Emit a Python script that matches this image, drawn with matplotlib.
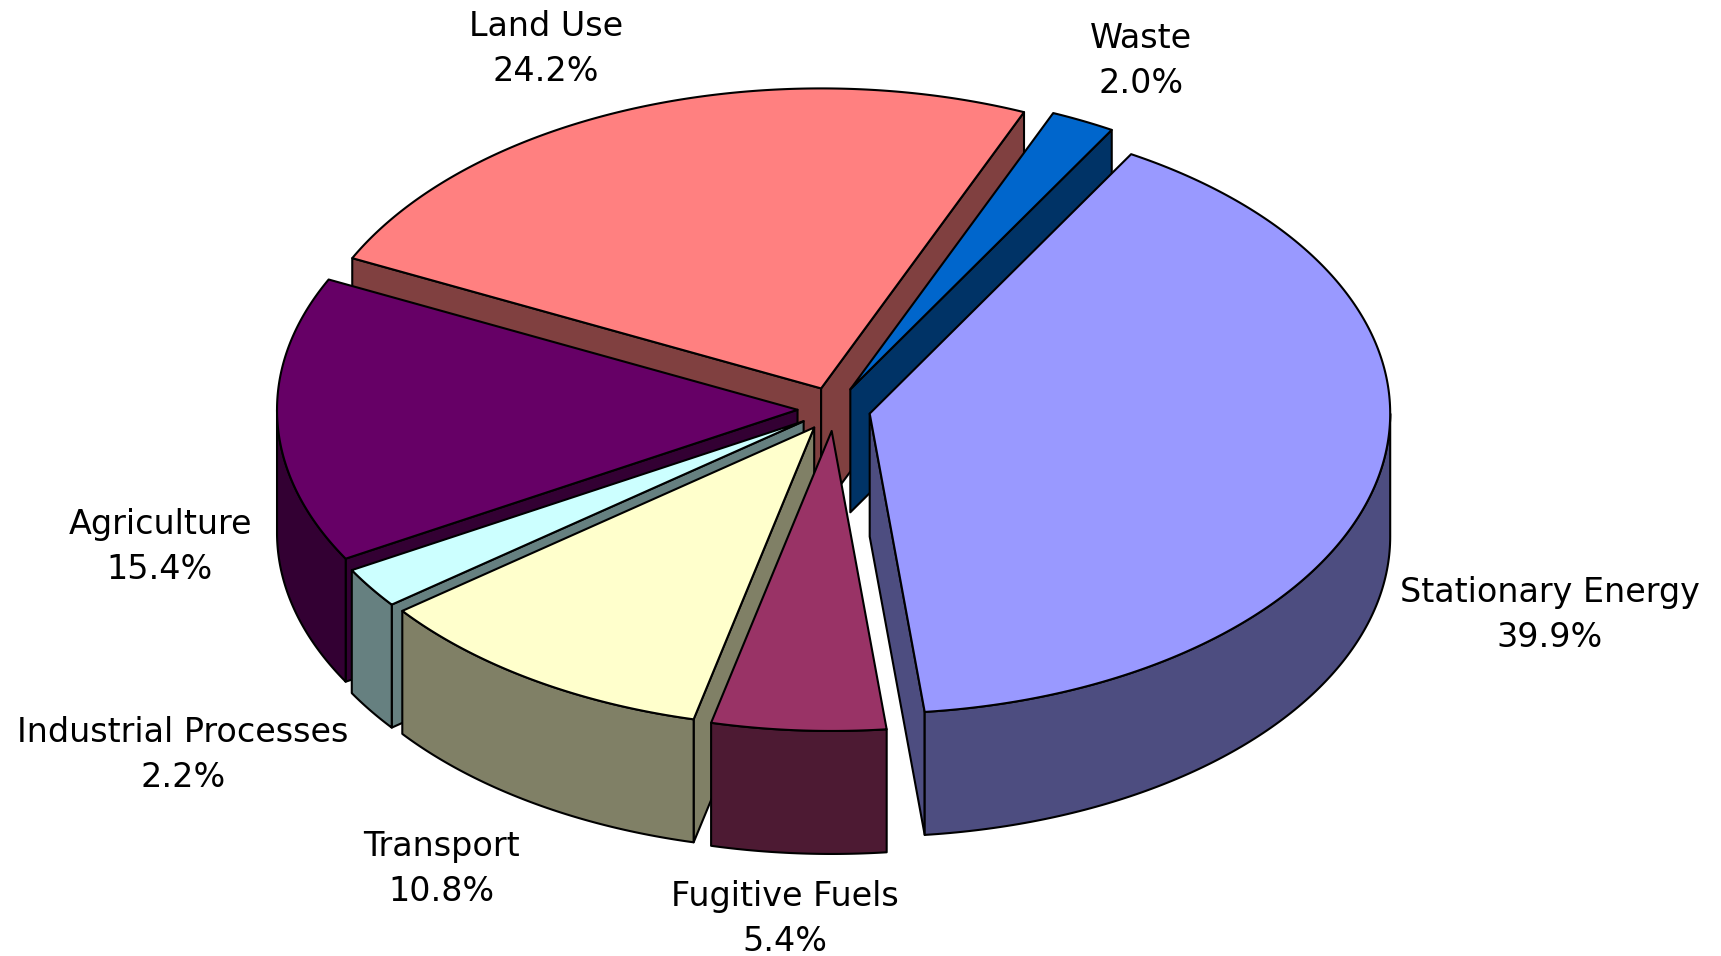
import numpy as np
import matplotlib
matplotlib.use("Agg")
import matplotlib.pyplot as plt
from matplotlib.patches import Polygon

# pie data, clockwise from the first slice
categories = ['Stationary Energy', 'Fugitive Fuels', 'Transport', 'Industrial Processes',
              'Agriculture', 'Land Use', 'Waste']
percent = [39.9, 5.4, 10.8, 2.2, 15.4, 24.2, 2.0]
top_colors = ['#9999FF', '#993366', '#FFFFCC', '#CCFFFF', '#660066', '#FF8080', '#0066CC']
side_colors = ['#4D4D80', '#4D1A33', '#808066', '#668080', '#330033', '#804040', '#003366']

# where the label blocks sit (pixels)
label_x = [1550, 785, 441, 183, 160, 546, 1141]
label_y = [613, 917, 867, 753, 545, 47, 59]

# back to front
draw_order = [5, 6, 4, 0, 3, 2, 1]

# projection of the pie, in pixels
CX, CY = 834.0, 409.0
RX, RY = 520.5, 300.0
EXPLODE_X, EXPLODE_Y = 36.5, 22.0
DEPTH = 123
START = 30.15

LW = 1.5


def project(ang):
    # point on the rim, ang in degrees clockwise from the top
    a = np.radians(ang)
    return RX * np.sin(a), -RY * np.cos(a)


def add_poly(ax, pts, color, z):
    ax.add_patch(Polygon(pts, closed=True, facecolor=color, edgecolor='black',
                         linewidth=LW, joinstyle='round', zorder=z))


def draw_slice(ax, a0, a1, top, side, z):
    mid = np.radians((a0 + a1) / 2)
    x0 = CX + EXPLODE_X * np.sin(mid)
    y0 = CY - EXPLODE_Y * np.cos(mid)

    # flat walls along the two cut edges, only if they face the viewer
    if np.cos(np.radians(a0 - 90)) < 0:
        ex, ey = project(a0)
        add_poly(ax, [(x0, y0), (x0 + ex, y0 + ey), (x0 + ex, y0 + ey + DEPTH), (x0, y0 + DEPTH)], side, z)
    if np.cos(np.radians(a1 + 90)) < 0:
        ex, ey = project(a1)
        add_poly(ax, [(x0, y0), (x0 + ex, y0 + ey), (x0 + ex, y0 + ey + DEPTH), (x0, y0 + DEPTH)], side, z + 0.1)

    # rounded wall, the part of the rim in front
    for lo, hi in [(90, 270), (450, 630)]:
        s, e = max(a0, lo), min(a1, hi)
        if s < e:
            t = np.linspace(s, e, 120)
            rim_x, rim_y = project(t)
            xs = x0 + rim_x
            ys = y0 + rim_y
            pts = list(zip(xs, ys)) + list(zip(xs[::-1], ys[::-1] + DEPTH))
            add_poly(ax, pts, side, z + 0.2)

    # top face
    t = np.linspace(a0, a1, 240)
    rim_x, rim_y = project(t)
    pts = [(x0, y0)] + list(zip(x0 + rim_x, y0 + rim_y))
    add_poly(ax, pts, top, z + 0.3)


def main():
    fig = plt.figure(figsize=(17.21, 9.56), dpi=100)
    ax = fig.add_axes([0, 0, 1, 1])
    ax.set_xlim(0, 1721)
    ax.set_ylim(956, 0)
    ax.axis('off')

    sweep = np.array(percent) / sum(percent) * 360
    edges = START + np.concatenate([[0], np.cumsum(sweep)])

    for n, i in enumerate(draw_order):
        draw_slice(ax, edges[i], edges[i + 1], top_colors[i], side_colors[i], n + 1)

    for i, name in enumerate(categories):
        ax.text(label_x[i], label_y[i] + 2, f'{name}\n{percent[i]:.1f}%', ha='center', va='center',
                fontsize=24, color='black', family='DejaVu Sans', linespacing=1.46, zorder=20)

    fig.savefig('out.png', dpi=100, facecolor='white')


if __name__ == "__main__":
    main()
